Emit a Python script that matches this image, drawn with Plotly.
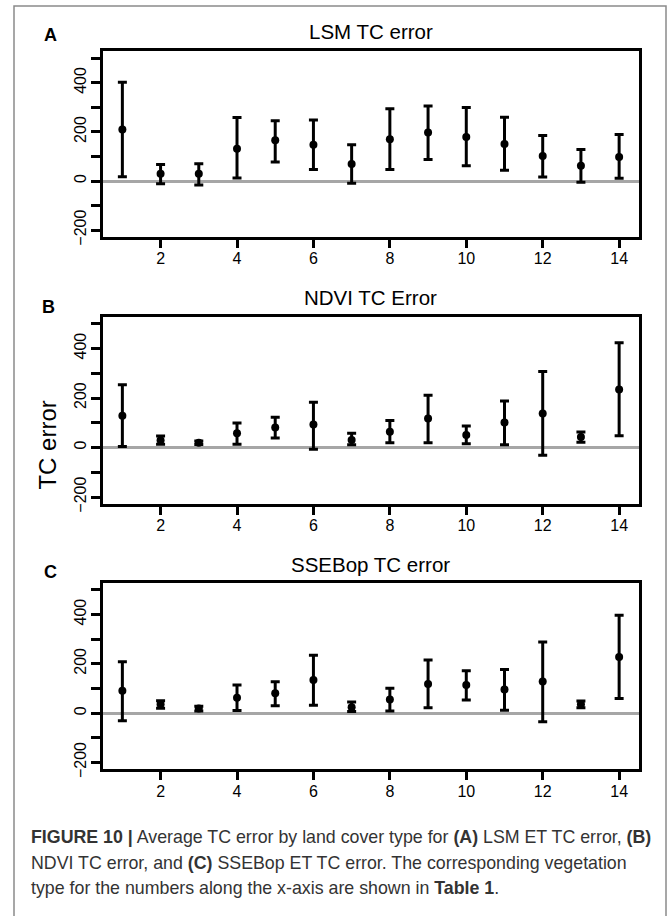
import plotly.graph_objects as go

# ---------------- data ----------------
land_cover = list(range(1, 15))

lsm_mean  = [210, 30, 30, 132, 166, 148, 69, 170, 198, 179, 151, 102, 62, 98]
lsm_upper = [403, 67, 70, 259, 246, 249, 148, 295, 306, 300, 260, 186, 128, 190]
lsm_lower = [17, -11, -16, 12, 78, 47, -9, 47, 88, 62, 44, 16, -5, 11]

ndvi_mean  = [129, 30, 19, 58, 81, 93, 31, 64, 117, 51, 101, 138, 43, 235]
ndvi_upper = [254, 47, 27, 99, 122, 183, 58, 109, 211, 87, 188, 307, 63, 423]
ndvi_lower = [4, 13, 12, 13, 39, -7, 11, 19, 19, 15, 11, -31, 21, 48]

sse_mean  = [91, 36, 19, 62, 81, 134, 24, 55, 118, 114, 96, 128, 36, 228]
sse_upper = [208, 50, 28, 114, 127, 235, 45, 101, 215, 172, 177, 288, 49, 397]
sse_lower = [-31, 20, 9, 11, 30, 32, 7, 9, 22, 53, 12, -35, 22, 59]

panel_titles = ["LSM TC error", "NDVI TC Error", "SSEBop TC error"]
panel_letters = ["A", "B", "C"]
y_tickvals = [-200, -100, 0, 100, 200, 300, 400, 500]
y_ticktext = ["\u2212200", "", "0", "", "200", "", "400", ""]
x_tickvals = [2, 4, 6, 8, 10, 12, 14]
y_label = "TC error"

caption_lines = [
    "<b>FIGURE 10 |</b> Average TC error by land cover type for <b>(A)</b> LSM ET TC error, <b>(B)</b>",
    "NDVI TC error, and <b>(C)</b> SSEBop ET TC error. The corresponding vegetation",
    "type for the numbers along the x-axis are shown in <b>Table 1</b>.",
]

# ---------------- layout geometry ----------------
W, H = 669, 916
def px(x):
    return x / W
def py(y):
    return 1 - y / H

x_dom = [px(102.5), px(639)]
panel_boxes = [(52, 239.3), (320, 509), (588.7, 777)]
title_y = [32, 300, 570]
letter_pos = [(50, 35), (49, 310), (50, 578)]

series = [
    (lsm_mean, lsm_upper, lsm_lower),
    (ndvi_mean, ndvi_upper, ndvi_lower),
    (sse_mean, sse_upper, sse_lower),
]

FONT = "Liberation Sans, Arial, sans-serif"

fig = go.Figure()
layout = dict(
    width=W, height=H,
    margin=dict(l=0, r=0, t=0, b=0),
    paper_bgcolor="white", plot_bgcolor="white",
    showlegend=False,
    font=dict(family=FONT, color="black"),
    annotations=[], shapes=[],
)

for i, (mean, up, lo) in enumerate(series):
    xa = "x" if i == 0 else f"x{i+1}"
    ya = "y" if i == 0 else f"y{i+1}"
    fig.add_trace(go.Scatter(
        x=land_cover, y=mean, xaxis=xa, yaxis=ya, mode="markers",
        marker=dict(color="black", size=8, symbol="circle"),
        error_y=dict(type="data", symmetric=False,
                     array=[u - m for u, m in zip(up, mean)],
                     arrayminus=[m - l for m, l in zip(mean, lo)],
                     color="black", thickness=3, width=4.5),
        hoverinfo="skip",
    ))
    top, bot = panel_boxes[i]
    xk = "xaxis" if i == 0 else f"xaxis{i+1}"
    yk = "yaxis" if i == 0 else f"yaxis{i+1}"
    layout[xk] = dict(
        domain=x_dom, anchor=ya, range=[0.48, 14.52],
        tickmode="array", tickvals=x_tickvals,
        ticks="outside", ticklen=8, tickwidth=3, tickcolor="black",
        showline=True, mirror=True, linewidth=3, linecolor="black",
        showgrid=False, zeroline=False, ticklabelstandoff=-3,
        tickfont=dict(family=FONT, size=16, color="black"),
    )
    layout[yk] = dict(
        domain=[py(bot), py(top)], anchor=xa, range=[-228, 528],
        tickmode="array", tickvals=y_tickvals, ticktext=y_ticktext,
        tickangle=-90, ticklabelstandoff=-2,
        ticks="outside", ticklen=9, tickwidth=3, tickcolor="black",
        showline=True, mirror=True, linewidth=3, linecolor="black",
        showgrid=False,
        zeroline=True, zerolinecolor="#a6a6a6", zerolinewidth=3,
        tickfont=dict(family=FONT, size=16, color="black"),
    )
    layout["annotations"].append(dict(
        text=panel_titles[i], x=(x_dom[0] + x_dom[1]) / 2, y=py(title_y[i]),
        xref="paper", yref="paper", xanchor="center", yanchor="middle",
        showarrow=False, font=dict(family=FONT, size=20.5, color="black"),
    ))
    lx, ly = letter_pos[i]
    layout["annotations"].append(dict(
        text=f"<b>{panel_letters[i]}</b>", x=px(lx), y=py(ly),
        xref="paper", yref="paper", xanchor="center", yanchor="middle",
        showarrow=False, font=dict(family=FONT, size=18, color="black"),
    ))

layout["annotations"].append(dict(
    text=y_label, x=px(48), y=py(450), xref="paper", yref="paper",
    xanchor="center", yanchor="middle", textangle=-90, showarrow=False,
    font=dict(family=FONT, size=24, color="black"),
))

for j, (line, yy) in enumerate(zip(caption_lines, [845, 871.5, 896.5])):
    layout["annotations"].append(dict(
        text=line, x=px(29), y=py(yy), xref="paper", yref="paper",
        xanchor="left", yanchor="middle", showarrow=False, align="left",
        font=dict(family=FONT, size=17.8, color="#333333"),
    ))

# outer frame
layout["shapes"].append(dict(
    type="rect", xref="paper", yref="paper",
    x0=px(14), x1=px(666), y0=-0.02, y1=py(6),
    line=dict(color="#8a8a8a", width=1.5), fillcolor="rgba(0,0,0,0)",
))

fig.update_layout(**layout)
fig.write_html("out.html", config={"displayModeBar": False},
               post_script="document.body.style.margin='0px';document.body.style.overflow='hidden';")
